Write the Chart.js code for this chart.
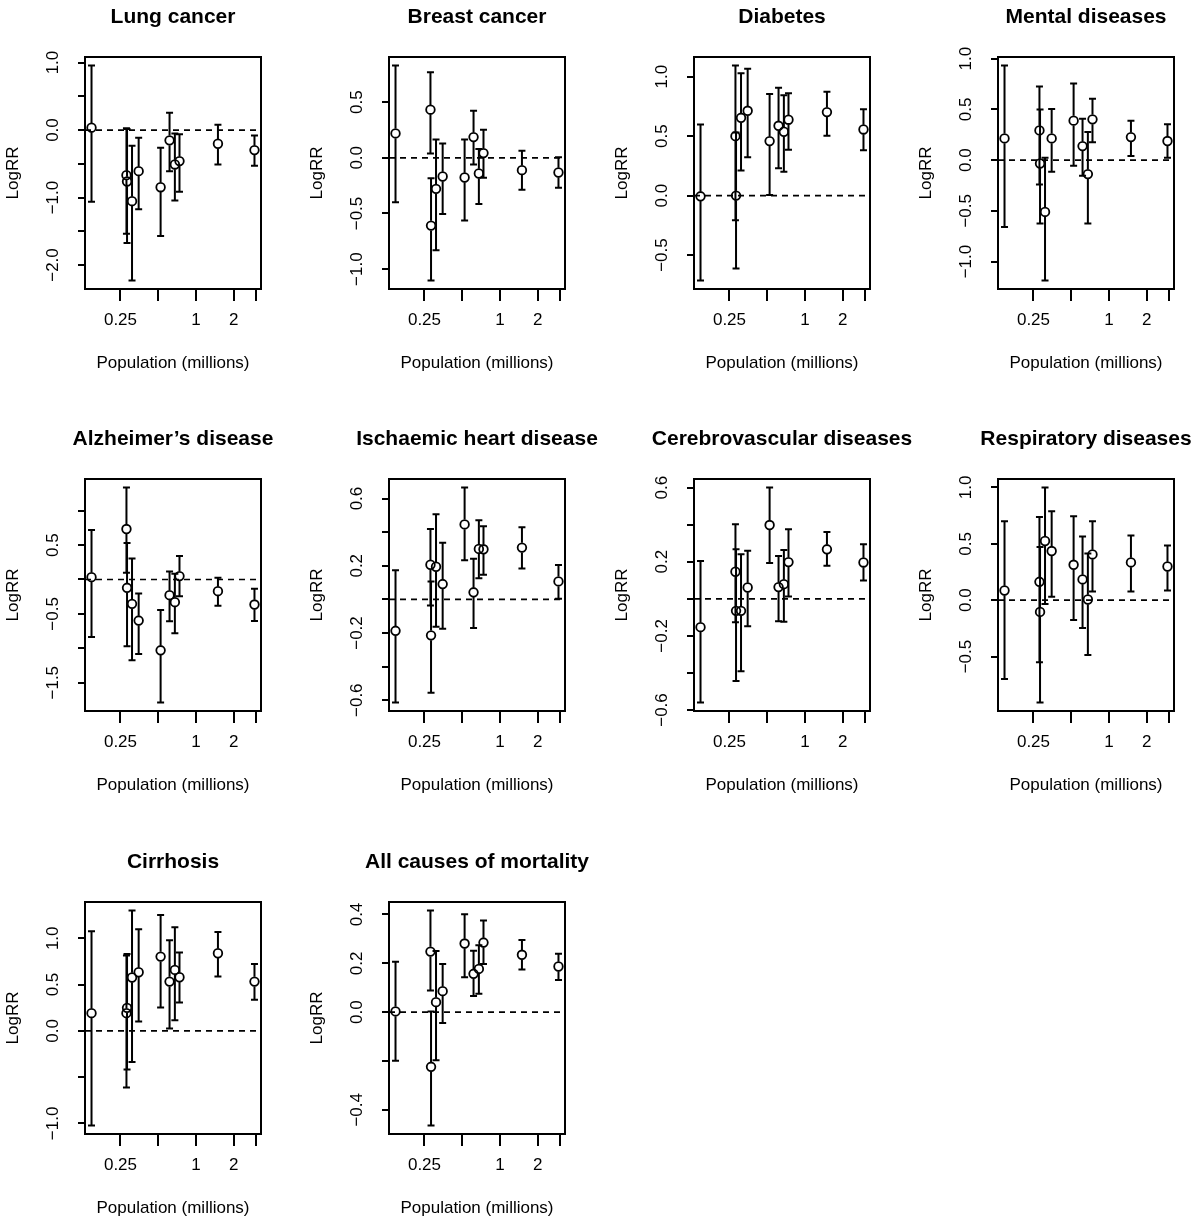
<!DOCTYPE html>
<html>
<head>
<meta charset="utf-8">
<script src="https://cdn.jsdelivr.net/npm/chart.js@4.4.0/dist/chart.umd.min.js"></script>
<style>
  html, body { margin: 0; padding: 0; background: #fff; }
  body { position: relative; width: 1200px; height: 1221px; overflow: hidden; }
  canvas { position: absolute; }
</style>
</head>
<body>
<script>
// population of each region, millions (shared x for every panel)
const population = [0.147, 0.279, 0.282, 0.309, 0.349, 0.522, 0.615, 0.678, 0.738, 1.494, 2.92];
const xTicks = [0.25, 0.5, 1, 2, 3];
const xTickLabels = ['0.25', '', '1', '2', ''];

// log relative risk: estimate, upper and lower limits
const lungEst = [0.035, -0.668, -0.762, -1.054, -0.609, -0.847, -0.153, -0.51, -0.46, -0.203, -0.297];
const lungHi  = [0.955, 0.025, 0.015, -0.233, -0.114, -0.262, 0.257, -0.05, -0.064, 0.079, -0.079];
const lungLo  = [-1.064, -1.535, -1.673, -2.228, -1.173, -1.569, -0.609, -1.045, -0.916, -0.51, -0.53];

const breastEst = [0.219, 0.432, -0.609, -0.279, -0.168, -0.177, 0.186, -0.141, 0.042, -0.111, -0.132];
const breastHi  = [0.828, 0.768, -0.183, 0.165, 0.129, 0.165, 0.423, 0.078, 0.252, 0.063, 0.006];
const breastLo  = [-0.399, 0.039, -1.101, -0.831, -0.504, -0.564, -0.06, -0.414, -0.18, -0.288, -0.27];

const diabetesEst = [-0.006, 0.5, 0.0, 0.654, 0.713, 0.458, 0.587, 0.537, 0.638, 0.702, 0.556];
const diabetesHi  = [0.598, 1.093, 0.531, 1.028, 1.067, 0.854, 0.907, 0.843, 0.86, 0.874, 0.725];
const diabetesLo  = [-0.713, -0.208, -0.612, 0.211, 0.323, 0.006, 0.23, 0.2, 0.385, 0.503, 0.382];

const mentalEst = [0.214, 0.293, -0.033, -0.511, 0.214, 0.389, 0.138, -0.138, 0.402, 0.227, 0.188];
const mentalHi  = [0.932, 0.725, 0.5, 0.023, 0.504, 0.755, 0.409, 0.277, 0.606, 0.389, 0.353];
const mentalLo  = [-0.659, -0.24, -0.626, -1.186, -0.115, -0.056, -0.155, -0.626, 0.175, 0.04, 0.023];

const alzEst = [0.034, 0.733, -0.121, -0.354, -0.597, -1.029, -0.228, -0.33, 0.049, -0.17, -0.364];
const alzHi  = [0.718, 1.335, 0.529, 0.306, -0.204, -0.442, 0.117, 0.083, 0.34, 0.024, -0.136];
const alzLo  = [-0.835, 0.097, -0.971, -1.175, -1.083, -1.786, -0.607, -0.782, -0.243, -0.383, -0.602];

const ihdEst = [-0.187, 0.206, -0.214, 0.194, 0.091, 0.446, 0.042, 0.3, 0.298, 0.308, 0.107];
const ihdHi  = [0.173, 0.419, 0.107, 0.506, 0.337, 0.665, 0.242, 0.47, 0.435, 0.429, 0.204];
const ihdLo  = [-0.613, -0.036, -0.556, -0.163, -0.175, 0.232, -0.171, 0.125, 0.147, 0.183, 0.004];

const cerebEst = [-0.153, 0.146, -0.065, -0.065, 0.061, 0.398, 0.063, 0.079, 0.198, 0.267, 0.196];
const cerebHi  = [0.204, 0.402, 0.268, 0.24, 0.259, 0.6, 0.231, 0.263, 0.375, 0.36, 0.294];
const cerebLo  = [-0.559, -0.126, -0.443, -0.391, -0.148, 0.193, -0.121, -0.124, 0.013, 0.178, 0.099];

const respEst = [0.086, 0.163, -0.104, 0.525, 0.436, 0.314, 0.184, 0.006, 0.406, 0.335, 0.299];
const respHi  = [0.7, 0.738, 0.471, 0.999, 0.789, 0.744, 0.566, 0.415, 0.7, 0.575, 0.486];
const respLo  = [-0.7, -0.551, -0.907, -0.033, 0.03, -0.175, -0.246, -0.486, 0.077, 0.077, 0.086];

const cirrEst = [0.191, 0.191, 0.248, 0.576, 0.633, 0.802, 0.532, 0.658, 0.579, 0.838, 0.532];
const cirrHi  = [1.076, 0.813, 0.831, 1.299, 1.097, 1.252, 0.978, 1.119, 0.845, 1.068, 0.723];
const cirrLo  = [-1.022, -0.612, -0.417, -0.338, 0.101, 0.252, 0.025, 0.115, 0.306, 0.586, 0.335];

const allEst = [0.003, 0.248, -0.224, 0.041, 0.086, 0.281, 0.157, 0.177, 0.285, 0.235, 0.187];
const allHi  = [0.206, 0.416, 0.003, 0.25, 0.197, 0.401, 0.251, 0.274, 0.375, 0.296, 0.239];
const allLo  = [-0.199, 0.089, -0.464, -0.197, -0.044, 0.143, 0.066, 0.075, 0.197, 0.175, 0.132];

// y ticks and which of them get a label
const lungTicks = [-2, -1.5, -1, -0.5, 0, 0.5, 1],      lungLabels = [-2, -1, 0, 1];
const breastTicks = [-1, -0.5, 0, 0.5],                breastLabels = [-1, -0.5, 0, 0.5];
const diabetesTicks = [-0.5, 0, 0.5, 1],               diabetesLabels = [-0.5, 0, 0.5, 1];
const mentalTicks = [-1, -0.5, 0, 0.5, 1],             mentalLabels = [-1, -0.5, 0, 0.5, 1];
const alzTicks = [-1.5, -1, -0.5, 0, 0.5, 1],          alzLabels = [-1.5, -0.5, 0.5];
const ihdTicks = [-0.6, -0.4, -0.2, 0, 0.2, 0.4, 0.6], ihdLabels = [-0.6, -0.2, 0.2, 0.6];
const cerebTicks = [-0.6, -0.4, -0.2, 0, 0.2, 0.4, 0.6], cerebLabels = [-0.6, -0.2, 0.2, 0.6];
const respTicks = [-0.5, 0, 0.5, 1],                   respLabels = [-0.5, 0, 0.5, 1];
const cirrTicks = [-1, -0.5, 0, 0.5, 1],               cirrLabels = [-1, 0, 0.5, 1];
const allTicks = [-0.4, -0.2, 0, 0.2, 0.4],            allLabels = [-0.4, 0, 0.2, 0.4];

const panels = [
  { title: 'Lung cancer', est: lungEst, hi: lungHi, lo: lungLo, ticks: lungTicks, labels: lungLabels },
  { title: 'Breast cancer', est: breastEst, hi: breastHi, lo: breastLo, ticks: breastTicks, labels: breastLabels },
  { title: 'Diabetes', est: diabetesEst, hi: diabetesHi, lo: diabetesLo, ticks: diabetesTicks, labels: diabetesLabels },
  { title: 'Mental diseases', est: mentalEst, hi: mentalHi, lo: mentalLo, ticks: mentalTicks, labels: mentalLabels },
  { title: 'Alzheimer\u2019s disease', est: alzEst, hi: alzHi, lo: alzLo, ticks: alzTicks, labels: alzLabels },
  { title: 'Ischaemic heart disease', est: ihdEst, hi: ihdHi, lo: ihdLo, ticks: ihdTicks, labels: ihdLabels },
  { title: 'Cerebrovascular diseases', est: cerebEst, hi: cerebHi, lo: cerebLo, ticks: cerebTicks, labels: cerebLabels },
  { title: 'Respiratory diseases', est: respEst, hi: respHi, lo: respLo, ticks: respTicks, labels: respLabels },
  { title: 'Cirrhosis', est: cirrEst, hi: cirrHi, lo: cirrLo, ticks: cirrTicks, labels: cirrLabels },
  { title: 'All causes of mortality', est: allEst, hi: allHi, lo: allLo, ticks: allTicks, labels: allLabels }
];

const FONT = '"Liberation Sans", Arial, Helvetica, sans-serif';
const COL_LEFT = [85, 389, 694, 998];
const ROW_TOP = [57, 479, 902];
const CAP = 3.5, GAP = 4.8;

function fmt(v) {
  const s = Math.abs(v).toFixed(1);
  return v < 0 ? '\u2212' + s : s;
}

// error bars, zero line, box and the R style texts
const rPlot = p => ({
  id: 'rplot',
  beforeDatasetsDraw(chart) {
    const { ctx, chartArea: a, scales: { x, y } } = chart;
    ctx.save();
    ctx.strokeStyle = '#000';
    ctx.lineWidth = 2;
    population.forEach((pop, i) => {
      const px = x.getPixelForValue(pop), py = y.getPixelForValue(p.est[i]);
      const yt = y.getPixelForValue(p.hi[i]), yb = y.getPixelForValue(p.lo[i]);
      ctx.beginPath();
      if (yt < py - GAP) { ctx.moveTo(px, yt); ctx.lineTo(px, py - GAP); }
      if (yb > py + GAP) { ctx.moveTo(px, py + GAP); ctx.lineTo(px, yb); }
      ctx.moveTo(px - CAP, yt); ctx.lineTo(px + CAP, yt);
      ctx.moveTo(px - CAP, yb); ctx.lineTo(px + CAP, yb);
      ctx.stroke();
    });
    const y0 = y.getPixelForValue(0);
    ctx.beginPath();
    ctx.lineWidth = 1.7;
    ctx.setLineDash([6, 5]);
    ctx.moveTo(a.left, y0); ctx.lineTo(a.right, y0);
    ctx.stroke();
    ctx.restore();
  },
  afterDraw(chart) {
    const { ctx, chartArea: a, scales: { y } } = chart;
    ctx.save();
    ctx.strokeStyle = '#000';
    ctx.lineWidth = 2;
    ctx.strokeRect(a.left, a.top, a.right - a.left, a.bottom - a.top);

    ctx.fillStyle = '#000';
    const cx = (a.left + a.right) / 2, cy = (a.top + a.bottom) / 2;
    ctx.font = 'bold 21px ' + FONT;
    ctx.textAlign = 'center';
    ctx.textBaseline = 'alphabetic';
    ctx.fillText(p.title, cx, a.top - 34);

    ctx.font = '17px ' + FONT;
    ctx.textBaseline = 'middle';
    ctx.fillText('Population (millions)', cx, a.bottom + 74);

    ctx.save();
    ctx.translate(a.left - 72, cy);
    ctx.rotate(-Math.PI / 2);
    ctx.fillText('LogRR', 0, 0);
    ctx.restore();

    p.labels.forEach(v => {
      ctx.save();
      ctx.translate(a.left - 32, y.getPixelForValue(v));
      ctx.rotate(-Math.PI / 2);
      ctx.fillText(fmt(v), 0, 0);
      ctx.restore();
    });
    ctx.restore();
  }
});

const lx = Math.log10(Math.min(...population)), hx = Math.log10(Math.max(...population));
const xPad = (hx - lx) * 0.04;

panels.forEach((p, k) => {
  const col = k % 4, row = Math.floor(k / 4);
  const cv = document.createElement('canvas');
  cv.width = 310; cv.height = 380;
  cv.style.width = '310px'; cv.style.height = '380px';
  cv.style.left = (COL_LEFT[col] - 80) + 'px';
  cv.style.top = (ROW_TOP[row] - 57) + 'px';
  document.body.appendChild(cv);

  const yMin = Math.min(...p.lo), yMax = Math.max(...p.hi), yPad = (yMax - yMin) * 0.04;

  new Chart(cv, {
    type: 'scatter',
    data: {
      datasets: [{
        data: population.map((x, i) => ({ x: x, y: p.est[i] })),
        pointStyle: 'circle',
        pointRadius: 4.3,
        pointHoverRadius: 4.3,
        borderColor: '#000',
        backgroundColor: 'rgba(0,0,0,0)',
        borderWidth: 1.8
      }]
    },
    options: {
      responsive: false,
      animation: false,
      devicePixelRatio: 1,
      layout: { autoPadding: false, padding: { top: 57, left: 0, right: 54, bottom: 0 } },
      plugins: { legend: { display: false }, tooltip: { enabled: false }, title: { display: false } },
      scales: {
        x: {
          type: 'logarithmic',
          min: Math.pow(10, lx - xPad),
          max: Math.pow(10, hx + xPad),
          afterBuildTicks: s => { s.ticks = xTicks.map(v => ({ value: v })); },
          afterFit: s => { s.height = 91; },
          grid: { drawOnChartArea: false, drawTicks: true, tickLength: 12, color: '#000', lineWidth: 2 },
          border: { display: false },
          ticks: {
            autoSkip: false, maxRotation: 0, minRotation: 0, padding: 9,
            color: '#000', font: { family: FONT, size: 17 },
            callback: (v, i) => xTickLabels[i]
          }
        },
        y: {
          type: 'linear',
          min: yMin - yPad,
          max: yMax + yPad,
          afterBuildTicks: s => { s.ticks = p.ticks.map(v => ({ value: v })); },
          afterFit: s => { s.width = 80; },
          grid: { drawOnChartArea: false, drawTicks: true, tickLength: 7, color: '#000', lineWidth: 2 },
          border: { display: false },
          ticks: { display: false }
        }
      }
    },
    plugins: [rPlot(p)]
  });
});
</script>
</body>
</html>
